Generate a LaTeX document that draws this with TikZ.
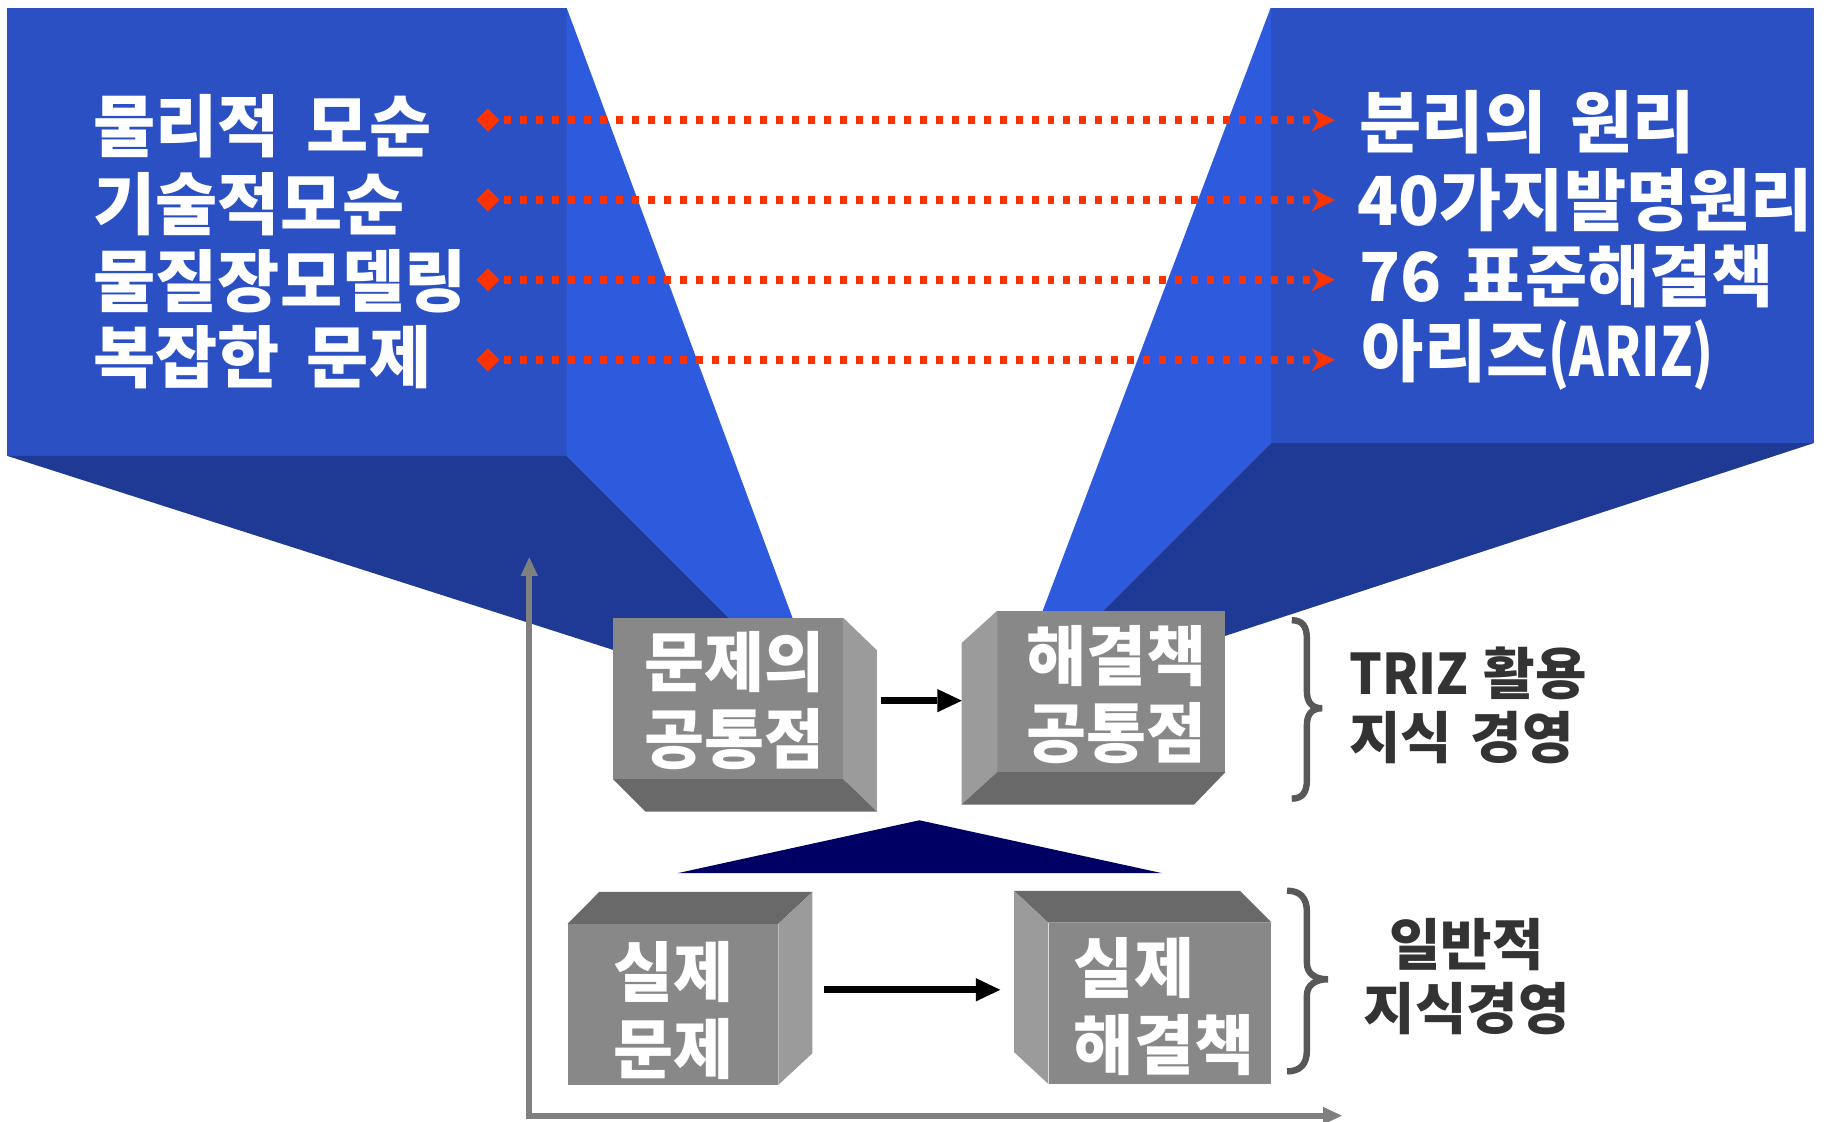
\documentclass[tikz,border=0pt]{standalone}
\usepackage{fontspec}
\usepackage{graphicx}
\newfontfamily\krf{Noto Sans CJK KR}
\usetikzlibrary{arrows.meta,shapes.geometric,calc}
\definecolor{bluefront}{RGB}{42,80,196}
\definecolor{bluelight}{RGB}{46,90,221}
\definecolor{bluedark}{RGB}{31,58,149}
\definecolor{navyc}{RGB}{0,0,100}
\definecolor{redc}{RGB}{255,51,0}
\definecolor{gfront}{RGB}{136,136,136}
\definecolor{glight}{RGB}{155,155,155}
\definecolor{gdark}{RGB}{105,105,105}
\definecolor{axisc}{RGB}{128,128,128}
\definecolor{bracec}{RGB}{88,88,88}
\definecolor{labc}{RGB}{51,51,51}
\tikzset{
  paneltext/.style={text=white, font=\krf\bfseries\fontsize{58}{66}\selectfont, anchor=base west, inner sep=0pt},
  boxtext/.style={text=white, font=\krf\bfseries\fontsize{56}{66}\selectfont, inner sep=0pt, align=center},
  labtext/.style={text=labc, font=\krf\bfseries\fontsize{48}{55}\selectfont, inner sep=0pt},
  frontface/.style={fill=gfront, draw=none, inner sep=0pt},
  reddot/.style={draw=redc, line width=6.5pt, dash pattern=on 6pt off 7.7pt, shorten <=4pt,
     -{Stealth[length=20pt,width=20pt,inset=6pt,line width=0pt,fill=redc]}},
  rdiam/.style={diamond, aspect=1, fill=redc, minimum size=20pt, inner sep=0pt},
  blkarrow/.style={line width=6pt, -{Triangle[length=21pt,width=20pt,line width=0pt]}},
  axisarr/.style={draw=axisc, line width=5pt,
     {Triangle[length=16pt,width=15pt,line width=0pt,fill=axisc]}-{Triangle[length=16pt,width=15pt,line width=0pt,fill=axisc]}},
  bracestyle/.style={draw=bracec, line width=5.5pt}
}
\begin{document}
\begin{tikzpicture}[x=1pt,y=-1pt]
\useasboundingbox (0,0) rectangle (1568,962);
% left blue panel
\fill[bluefront] (6,6.5) rectangle (486,391);
\fill[bluelight] (486,6.5) -- (712,617) -- (486,391) -- cycle;
\fill[bluedark] (6,391) -- (486,391) -- (712,617) -- cycle;
% right blue panel
\fill[bluefront] (1090,6.5) rectangle (1556,380);
\fill[bluelight] (1090,6.5) -- (1090,380) -- (863,607) -- cycle;
\fill[bluedark] (1556,380) -- (1090,380) -- (863,607) -- cycle;

% panel texts
\node[paneltext] (l1) at (80,130) {물리적\hspace{23pt}모순};
\node[paneltext] (l2) at (80,196.5) {기술적모순};
\node[paneltext] (l3) at (80,263) {물질장모델링};
\node[paneltext] (l4) at (80,328.5) {복잡한\hspace{23pt}문제};
\node[paneltext] (r1) at (1166,126.5) {분리의\hspace{21pt}원리};
\node[paneltext] (r2) at (1164,193.5) {40가지발명원리};
\node[paneltext] (r3) at (1166,258.5) {76\hspace{18pt}표준해결책};
\node[paneltext] (r4) at (1168,323) {아리즈\scalebox{0.78}[1]{(ARIZ)}};

% red dotted connectors
\node[rdiam] (d1) at (418.5,103) {};
\node[rdiam] (d2) at (418.5,171.5) {};
\node[rdiam] (d3) at (418.5,240) {};
\node[rdiam] (d4) at (418.5,308.7) {};
\coordinate (e1) at (1145,103);
\coordinate (e2) at (1145,171.5);
\coordinate (e3) at (1145,240);
\coordinate (e4) at (1145,308.7);
\draw[reddot] (d1.east) -- (e1);
\draw[reddot] (d2.east) -- (e2);
\draw[reddot] (d3.east) -- (e3);
\draw[reddot] (d4.east) -- (e4);

% axis
\coordinate (ytop) at (454,478);
\coordinate (xend) at (1151,957);
\draw[axisarr] (ytop) |- (xend);

% box 1
\node[frontface, minimum width=197pt, minimum height=138pt] (b1) at (624.5,599) {};
\fill[glight] (b1.north east) -- ++(29,28) -- ($(b1.south east)+(29,28)$) -- (b1.south east) -- cycle;
\fill[gdark] (b1.south west) -- (b1.south east) -- ++(29,28) -- ($(b1.south west)+(28,28)$) -- cycle;
\node[boxtext] (t1) at (630,601) {문제의\\공통점};
% box 2
\node[frontface, minimum width=195.4pt, minimum height=138pt] (b2) at (953.3,593) {};
\fill[glight] (b2.north west) -- ++(-30.6,27.8) -- ($(b2.south west)+(-30.6,28)$) -- (b2.south west) -- cycle;
\fill[gdark] (b2.south west) -- (b2.south east) -- ++(-27,28) -- ($(b2.south west)+(-30.6,28)$) -- cycle;
\node[boxtext] (t2) at (958,595.5) {해결책\\공통점};
% box 3
\node[frontface, minimum width=180.4pt, minimum height=137.8pt] (b3) at (577.2,861.5) {};
\fill[gdark] (b3.north west) -- ++(27.2,-27.3) -- ($(b3.north east)+(29.3,-27.3)$) -- (b3.north east) -- cycle;
\fill[glight] (b3.north east) -- ++(29.3,-27.3) -- ($(b3.south east)+(29.3,-27.2)$) -- (b3.south east) -- cycle;
\node[boxtext] (t3) at (578,866.7) {실제\\문제};
% box 4
\node[frontface, minimum width=191.2pt, minimum height=137.9pt] (b4) at (995,860.6) {};
\fill[gdark] (b4.north west) -- ++(-29.4,-27.3) -- ($(b4.north east)+(-27.1,-27.3)$) -- (b4.north east) -- cycle;
\fill[glight] (b4.north west) -- ++(-29.4,-27.3) -- ($(b4.south west)+(-29.4,-27.3)$) -- (b4.south west) -- cycle;
\node[boxtext, align=left, anchor=west] (t4) at (921,863) {실제\\해결책};

% black arrows
\coordinate (a1s) at (756,601);
\coordinate (a1e) at (825,601);
\draw[blkarrow] (a1s) -- (a1e);
\coordinate (a2s) at (707,849);
\coordinate (a2e) at (858,849);
\draw[blkarrow] (a2s) -- (a2e);

% navy triangle
\fill[navyc] (788.6,703.6) -- (997,749) -- (581,749) -- cycle;

% braces
\draw[bracestyle] (1108,532) .. controls (1117,532) and (1121,537) .. (1121,548) -- (1121,593)
  .. controls (1121,602) and (1125,607.5) .. (1134,607.5)
  .. controls (1125,607.5) and (1121,613) .. (1121,622) -- (1121,669)
  .. controls (1121,680) and (1117,685) .. (1108,685);
\draw[bracestyle] (1104,764) .. controls (1115,764) and (1121,770) .. (1121,782) -- (1121,826)
  .. controls (1121,835) and (1128,840) .. (1139,840)
  .. controls (1128,840) and (1121,845) .. (1121,854) -- (1121,901)
  .. controls (1121,913) and (1115,919) .. (1104,919);

% labels
\node[labtext, align=left, anchor=west] (lab1) at (1157,605) {\scalebox{0.92}[1]{TRIZ}\hspace{13pt}활용\\지식\hspace{16pt}경영};
\node[labtext, align=center] (lab2) at (1258,837.5) {일반적\\지식경영};
\end{tikzpicture}
\end{document}
